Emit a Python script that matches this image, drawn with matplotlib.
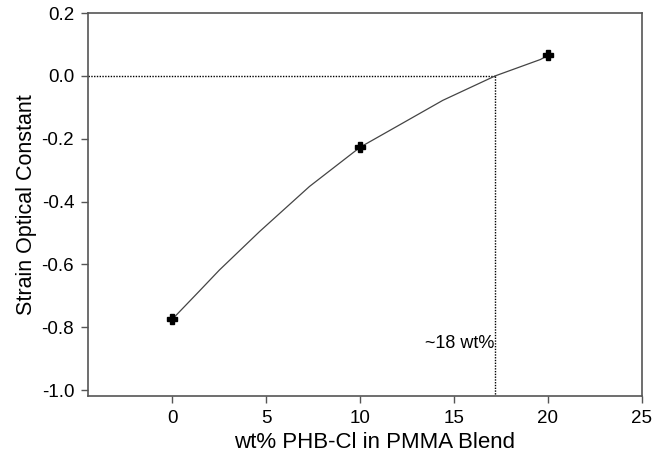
import matplotlib.pyplot as plt

plt.rcParams['font.family'] = ['Liberation Sans', 'DejaVu Sans']

# measured points
wt_pct = [0, 10, 20]
soc = [-0.774, -0.227, 0.065]

# smooth curve
curve_x = [0, 1.4, 2.5, 4.65, 7.3, 10, 12.1, 14.4, 17.2, 19.6, 20]
curve_y = [-0.774, -0.687, -0.618, -0.495, -0.352, -0.227, -0.156, -0.078, 0.0, 0.052, 0.065]

cross_x = 17.2
x_ticks = [0, 5, 10, 15, 20, 25]
y_ticks = [-1.0, -0.8, -0.6, -0.4, -0.2, 0.0, 0.2]

fig = plt.figure(figsize=(6.72, 4.58), dpi=100)
ax = fig.add_axes([0.131, 0.1354, 0.824, 0.8362])

ax.plot(curve_x, curve_y, color='#444444', lw=0.9, zorder=2)
ax.plot(wt_pct, soc, linestyle='none', marker='P', ms=6.5, color='black', zorder=3)

ax.set_xlim(-4.5, 25)
ax.set_ylim(-1.019, 0.2)

ax.plot([-4.5, cross_x], [0, 0], color='black', lw=1, ls=(0, (1, 1)), zorder=1)
ax.plot([cross_x, cross_x], [0, -1.019], color='black', lw=1, ls=(0, (1, 1)), zorder=1)
ax.text(cross_x - 0.05, -0.852, '~18 wt%', ha='right', va='center', fontsize=13)

ax.set_xticks(x_ticks)
ax.set_yticks(y_ticks)
ax.set_yticklabels(['%.1f' % v for v in y_ticks])
ax.tick_params(direction='out', length=5, width=1, color='#555555', labelsize=13.5, pad=5)
for s in ax.spines.values():
    s.set_color('#555555')
    s.set_linewidth(1.2)

ax.set_xlabel('wt% PHB-Cl in PMMA Blend', fontsize=16, labelpad=4, x=0.518)
ax.set_ylabel('Strain Optical Constant', fontsize=15.5, labelpad=3)

fig.savefig('out.png', dpi=100)
